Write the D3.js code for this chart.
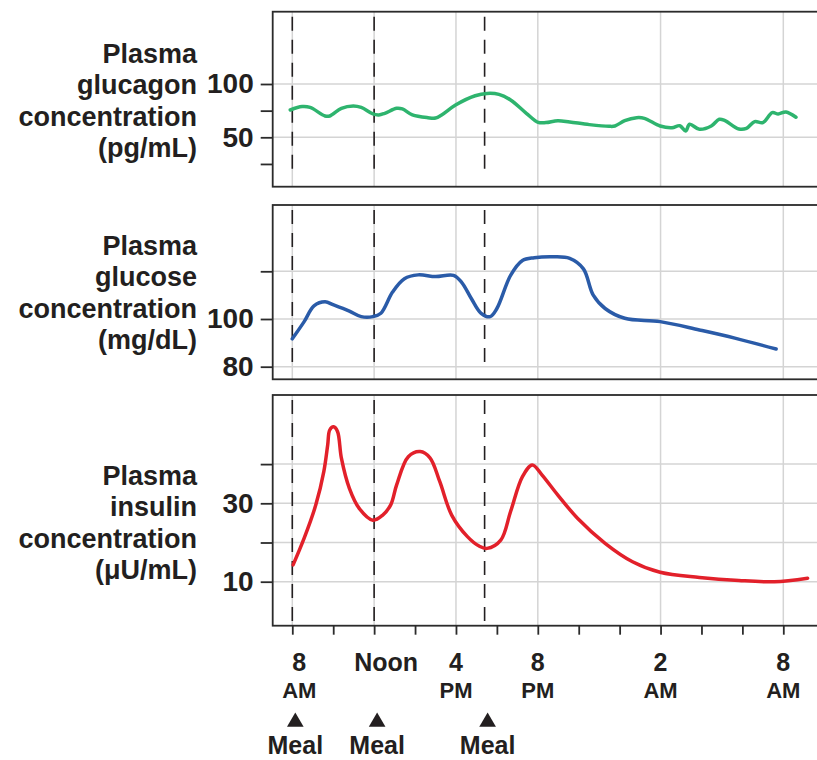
<!DOCTYPE html>
<html>
<head>
<meta charset="utf-8">
<script src="https://cdn.jsdelivr.net/npm/d3@7"></script>
<style>
  body { margin: 0; background: #fff; }
  svg { display: block; font-family: "Liberation Sans", Arial, sans-serif; font-weight: bold; }
</style>
</head>
<body>
<script>
// time in hours of day (8 = 8 AM, 32 = 8 AM next day)
var glucagonHours = [7.9, 8.48, 8.87, 9.6, 9.83, 10.4, 10.98, 11.37, 11.94, 12.23, 12.52, 13.1, 13.38, 13.87, 14.63, 15.0, 15.3, 15.98, 16.94, 17.52, 18.1, 18.67, 19.44, 20.02, 20.4, 20.98, 21.56, 22.52, 23.48, 23.77, 24.25, 24.83, 25.21, 25.98, 26.56, 26.94, 27.23, 27.42, 27.9, 28.48, 28.87, 29.15, 29.83, 30.2, 30.6, 31.0, 31.46, 31.75, 32.13, 32.62];
var glucagonValues = [75.6, 78.8, 78, 70, 70, 77.2, 79.4, 78, 71.9, 71, 72.5, 77.2, 76.6, 71, 68.4, 68.1, 71, 80.3, 89, 91.2, 90.3, 85, 72.5, 64, 63.8, 65.6, 64.4, 61.9, 60.3, 60.6, 65.6, 68.4, 67.8, 60.6, 59, 60.9, 56, 62.2, 57.5, 60.6, 66.9, 65.6, 57.8, 58.4, 64.7, 63.8, 73.1, 71.9, 73.8, 68.8];

var glucoseHours = [8, 8.58, 9.06, 9.6, 10.02, 10.79, 11.37, 11.94, 12.33, 12.9, 13.48, 14.15, 15.0, 15.88, 16.27, 16.75, 17.23, 17.67, 18, 18.67, 19.25, 19.83, 20.79, 21.56, 22.23, 22.71, 23.29, 24.25, 25.98, 27.9, 29.63, 31.65];
var glucoseValues = [91.7, 98.9, 105.5, 107.2, 105.9, 103.3, 101, 101, 102.4, 111.3, 116.9, 118.5, 117.8, 118.3, 115.5, 108.6, 102.4, 101, 104.4, 118.3, 124.5, 125.7, 126.1, 125.4, 121, 110, 104.4, 100.3, 98.9, 95.4, 92, 87.4];

var insulinHours = [8.04, 8.58, 9.15, 9.54, 9.73, 9.83, 10.02, 10.21, 10.4, 10.79, 11.27, 11.94, 12.42, 12.81, 13.1, 13.67, 14.25, 14.73, 15.21, 15.79, 16.56, 17.13, 17.52, 18.19, 18.67, 19.25, 19.73, 20.21, 20.98, 21.94, 23.29, 24.63, 25.98, 27.9, 29.83, 31.56, 33.19];
var insulinValues = [14.3, 21.1, 29.6, 38.1, 44.9, 48.7, 49.5, 48.3, 41.5, 33.8, 28.7, 25.7, 27, 29.6, 34.7, 41.9, 43.2, 41.6, 35.5, 27, 21.5, 19.1, 18.5, 20.6, 27.9, 36.8, 39.8, 37.2, 32.1, 26.2, 19.8, 15.1, 12.4, 11.1, 10.3, 10, 10.9];

var timeTicks = [8, 10, 12, 14, 16, 18, 20, 22, 24, 26, 28, 30, 32];
var gridHours = [8, 12, 16, 20, 26, 32];
var labelHours = [8, 12, 16, 20, 26, 32];
var labelTop = ["8", "Noon", "4", "8", "2", "8"];
var labelBottom = ["AM", "", "PM", "PM", "AM", "AM"];
var mealHours = [8, 12, 17.4];

var width = 817, height = 760;
var boxLeft = 272.7, boxRight = 830;
var ink = "#231f20", gridColor = "#d4d4d4";

var x = d3.scaleLinear().domain([8, 32]).range([292.3, 783.3]);

var panels = [
  { top: 11.7, bottom: 186.7, domain: [50, 100], range: [137.3, 84],
    ticks: [25, 50, 75, 100], labeled: [50, 100], grid: [50, 100],
    lines: ["Plasma", "glucagon", "concentration", "(pg/mL)"], firstBase: 63,
    hours: glucagonHours, values: glucagonValues, color: "#2eb46e", dashBottom: 12 },
  { top: 205, bottom: 379.3, domain: [80, 100], range: [366.7, 319],
    ticks: [80, 100, 120], labeled: [80, 100], grid: [80, 100, 120],
    lines: ["Plasma", "glucose", "concentration", "(mg/dL)"], firstBase: 255,
    hours: glucoseHours, values: glucoseValues, color: "#2a5ba8", dashBottom: 12 },
  { top: 395, bottom: 625.7, domain: [10, 30], range: [581.7, 503.3],
    ticks: [10, 20, 30, 40], labeled: [10, 30], grid: [10, 20, 30, 40],
    lines: ["Plasma", "insulin", "concentration", "(\u03bcU/mL)"], firstBase: 485,
    hours: insulinHours, values: insulinValues, color: "#e2202a", dashBottom: 0 }
];

var svg = d3.select("body").append("svg")
  .attr("width", width)
  .attr("height", height);

panels.forEach(function(p) {
  var y = d3.scaleLinear().domain(p.domain).range(p.range);
  var g = svg.append("g");

  // grid
  g.selectAll(".hgrid").data(p.grid).enter().append("line")
    .attr("x1", boxLeft).attr("x2", boxRight)
    .attr("y1", function(d) { return y(d); }).attr("y2", function(d) { return y(d); })
    .attr("stroke", gridColor).attr("stroke-width", 1.5);
  g.selectAll(".vgrid").data(gridHours).enter().append("line")
    .attr("x1", function(d) { return x(d); }).attr("x2", function(d) { return x(d); })
    .attr("y1", p.top).attr("y2", p.bottom)
    .attr("stroke", gridColor).attr("stroke-width", 1.5);

  // meal dashed lines
  g.selectAll(".meal").data(mealHours).enter().append("line")
    .attr("x1", function(d) { return x(d); }).attr("x2", function(d) { return x(d); })
    .attr("y1", p.top + 5).attr("y2", p.bottom - p.dashBottom)
    .attr("stroke", ink).attr("stroke-width", 1.6)
    .attr("stroke-dasharray", "14,9");

  // data line
  var line = d3.line()
    .x(function(d, i) { return x(p.hours[i]); })
    .y(function(d) { return y(d); })
    .curve(d3.curveCatmullRom.alpha(0.5));
  g.append("path")
    .attr("d", line(p.values))
    .attr("fill", "none")
    .attr("stroke", p.color)
    .attr("stroke-width", 3.5)
    .attr("stroke-linejoin", "round")
    .attr("stroke-linecap", "round");

  // box
  g.append("rect")
    .attr("x", boxLeft).attr("y", p.top)
    .attr("width", boxRight - boxLeft).attr("height", p.bottom - p.top)
    .attr("fill", "none").attr("stroke", "#2b2b2b").attr("stroke-width", 1.8);

  // y axis
  var axis = d3.axisLeft(y)
    .tickValues(p.ticks)
    .tickSize(12)
    .tickPadding(7)
    .tickFormat(function(d) { return p.labeled.indexOf(d) >= 0 ? d : ""; });
  var ag = g.append("g")
    .attr("transform", "translate(" + boxLeft + ",0)")
    .call(axis);
  ag.select(".domain").remove();
  ag.selectAll("line").attr("stroke", "#2b2b2b").attr("stroke-width", 1.8);
  ag.selectAll("text")
    .attr("fill", ink)
    .attr("font-family", "'Liberation Sans', Arial, sans-serif")
    .attr("font-weight", "bold")
    .attr("font-size", 28);

  // y label
  var lt = g.append("text")
    .attr("text-anchor", "end")
    .attr("fill", ink)
    .attr("font-size", 27);
  p.lines.forEach(function(s, i) {
    lt.append("tspan")
      .attr("x", 197)
      .attr("y", p.firstBase + i * 31.3)
      .text(s);
  });
});

// x axis ticks
var bottomY = panels[2].bottom;
var xa = d3.axisBottom(x).tickValues(timeTicks).tickSize(9).tickFormat("");
var xg = svg.append("g")
  .attr("transform", "translate(0," + bottomY + ")")
  .call(xa);
xg.select(".domain").remove();
xg.selectAll("line").attr("stroke", "#2b2b2b").attr("stroke-width", 1.8);

// time labels
var labelShift = { 8: 7, 12: 12 };
var tl = svg.append("g").selectAll("text")
  .data(labelHours).enter().append("text")
  .attr("text-anchor", "middle")
  .attr("fill", ink);
tl.append("tspan")
  .attr("x", function(d) { return x(d) + (labelShift[d] || 0); })
  .attr("y", 671)
  .attr("font-size", 25)
  .text(function(d, i) { return labelTop[i]; });
tl.append("tspan")
  .attr("x", function(d) { return x(d) + (labelShift[d] || 0); })
  .attr("y", 698)
  .attr("font-size", 22)
  .text(function(d, i) { return labelBottom[i]; });

// meal markers
var mg = svg.append("g").selectAll("g")
  .data(mealHours).enter().append("g")
  .attr("transform", function(d) { return "translate(" + (x(d) + 3) + ",0)"; });
mg.append("path")
  .attr("d", d3.symbol().type(d3.symbolTriangle).size(120))
  .attr("transform", "translate(0,722)")
  .attr("fill", ink);
mg.append("text")
  .attr("text-anchor", "middle")
  .attr("y", 754)
  .attr("font-size", 25)
  .attr("fill", ink)
  .text("Meal");
</script>
</body>
</html>
